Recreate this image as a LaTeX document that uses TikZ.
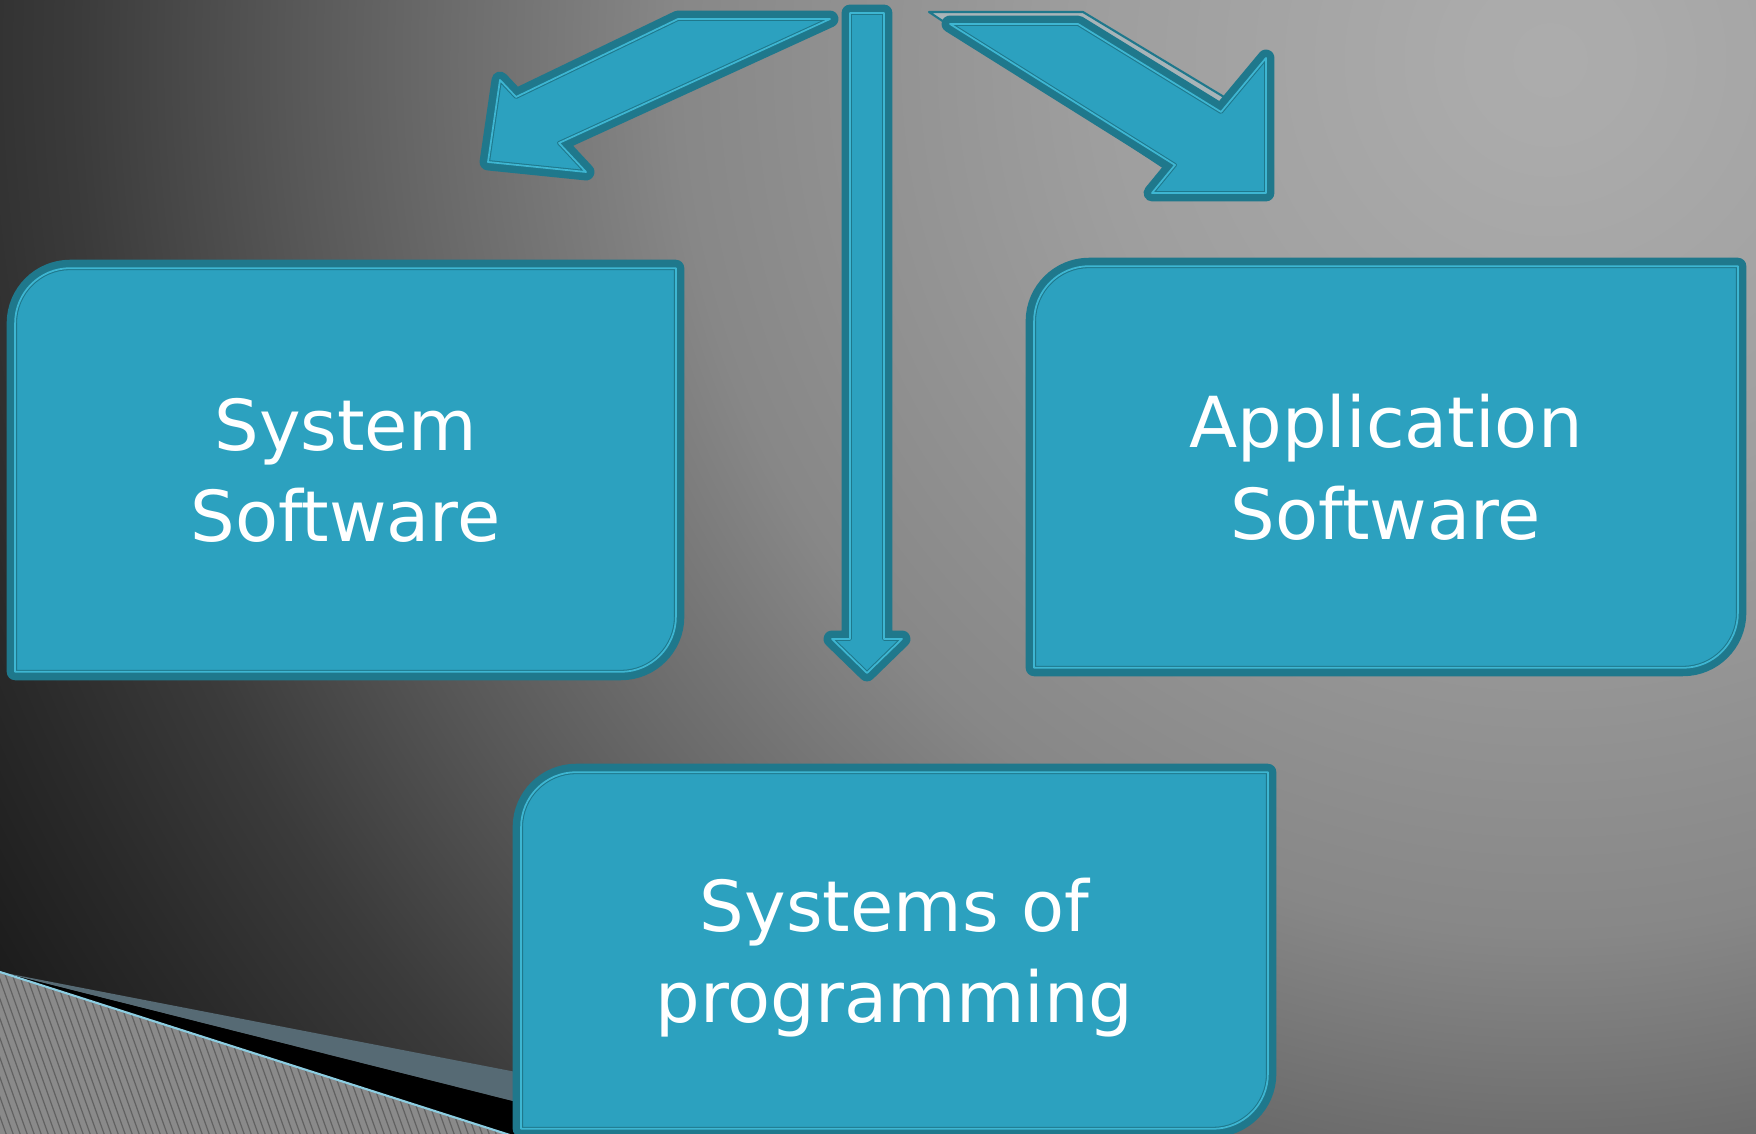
\documentclass[tikz,border=0pt]{standalone}
\usepackage{fontspec}
\setmainfont{DejaVu Sans}
\usetikzlibrary{backgrounds}
\definecolor{boxfill}{RGB}{44,161,191}
\definecolor{boxdark}{RGB}{31,120,140}
\definecolor{boxlight}{RGB}{62,182,210}
\definecolor{ghostfill}{RGB}{168,180,184}
\definecolor{hatchgray}{RGB}{138,138,138}
\definecolor{hatchline}{RGB}{98,98,98}
\definecolor{wedgeblue}{RGB}{86,106,116}
\definecolor{edgecyan}{RGB}{140,205,225}
\pgfdeclareradialshading{bgglow}{\pgfpoint{0bp}{0bp}}{%
    color(0bp)=(black!32.5); color(1bp)=(black!33); color(6bp)=(black!38);
    color(11.5bp)=(black!47); color(14.4bp)=(black!57.6); color(16.5bp)=(black!65.5);
    color(19.4bp)=(black!77); color(21.6bp)=(black!83.5); color(24.8bp)=(black!92);
    color(50bp)=(black!92)}
\tikzset{
    panel/.style = {preaction={draw=boxdark, line width=4.8pt, line join=round}, fill=boxfill, draw=boxdark, line width=0.3pt, double=boxlight, double distance=0.5pt, line join=round},
    paneltext/.style = {rectangle, inner sep=0pt, text=white, align=center, text depth=0pt, font=\fontsize{20}{26}\selectfont}
}
\begin{document}
\begin{tikzpicture}[
        x=0.01cm, y=-0.01cm,
        % STYLES
        ghost/.style = {draw=boxdark, line width=0.6pt, fill=ghostfill, line join=round},
        hatch/.style = {draw=hatchline, line width=0.35pt}
    ]
        \useasboundingbox (0,0) rectangle (1756,1134);

        % --- BACKGROUND ---
        \begin{scope}[on background layer]
            \clip (0,0) rectangle (1756,1134);
            \shade[shading=bgglow] (1550,60) circle[radius=19cm];
            % corner decoration
            \fill[wedgeblue] (0,972) -- (516,1072) -- (516,1102) -- cycle;
            \fill[black] (0,972) -- (516,1102) -- (516,1137) -- cycle;
            \begin{scope}
                \clip (0,972) -- (516,1137) -- (0,1137) -- cycle;
                \fill[hatchgray] (0,960) rectangle (520,1140);
                \foreach \i in {-70,-63,...,520}
                    \draw[hatch] (\i,960) -- ++(65,182);
            \end{scope}
            \draw[edgecyan, line width=0.6pt] (0,972) -- (516,1137);
        \end{scope}

        % --- NODES ---
        \node[paneltext, minimum width=6.59cm, minimum height=4.02cm] (sys) at (345.5,470) {System\\Software};
        \node[paneltext, minimum width=7.02cm, minimum height=4.00cm] (app) at (1386,467) {Application\\Software};
        \node[paneltext, minimum width=7.45cm, minimum height=3.55cm] (prog) at (894.5,950.5) {Systems of\\programming};

        % panels with two rounded corners
        \begin{scope}[on background layer]
            \foreach \n in {sys,app,prog}
                \path[panel] (\n.south west) -- ([yshift=-5.5mm]\n.north west)
                    arc[start angle=180, end angle=90, radius=5.5mm] -- (\n.north east)
                    -- ([yshift=5.5mm]\n.south east)
                    arc[start angle=0, end angle=-90, radius=5.5mm] -- cycle;
        \end{scope}

        % --- ARROWS ---
        % to system software
        \path[panel] (678,19) -- (830,19) -- (559,143) -- (586,172) -- (488,162) -- (500,80) -- (516,97) -- cycle;
        % down to systems of programming
        \path[panel] (850,13) -- (884,13) -- (884,639) -- (902,639) -- (867,673) -- (832,639) -- (850,639) -- cycle;
        % to application software
        \path[ghost] (929,12) -- (1083,12) -- (1229,100) -- (1166,169) -- cycle;
        \path[panel] (950,24) -- (1078,24) -- (1221,112) -- (1266,58) -- (1266,193) -- (1152,193) -- (1175,165) -- cycle;

    \end{tikzpicture}
\end{document}
